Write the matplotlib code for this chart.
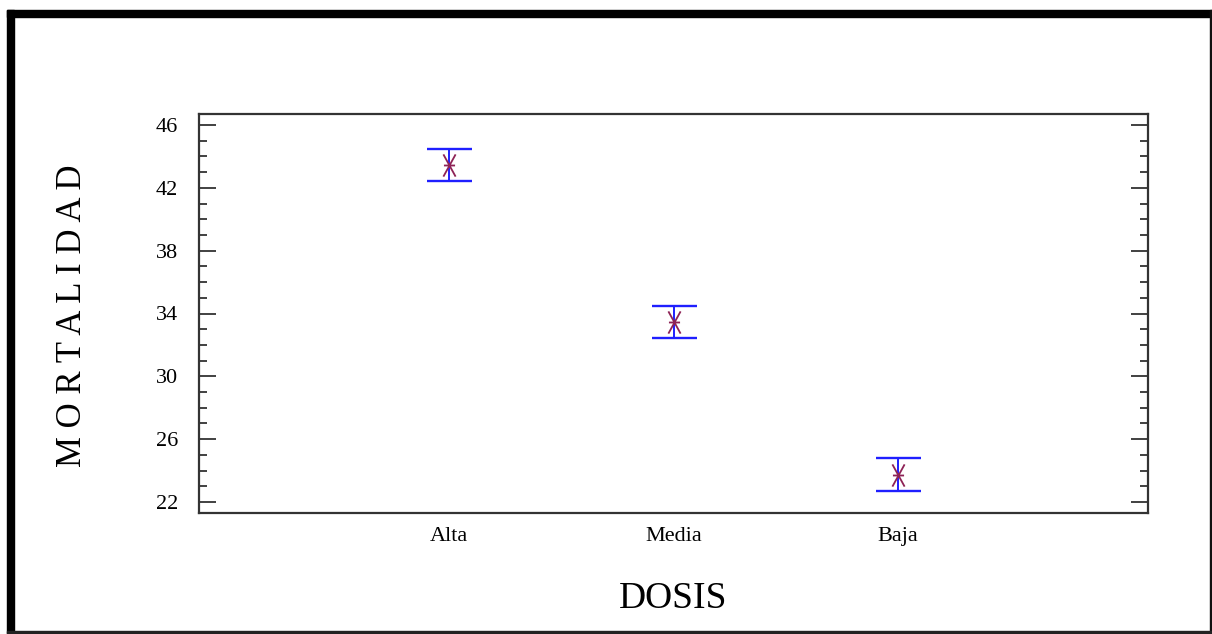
"""
Mortalidad por dosis: medias con intervalos (estilo Statgraphics).
"""
import matplotlib
matplotlib.use("Agg")
import matplotlib.pyplot as plt
from matplotlib.patches import Rectangle
from matplotlib.path import Path
from matplotlib.ticker import MultipleLocator

# ── datos ──
dosis = ["Alta", "Media", "Baja"]
mortalidad_media = [43.45, 33.45, 23.75]
intervalo = [1.02, 1.02, 1.02]
y_ticks = [22, 26, 30, 34, 38, 42, 46]

plt.rcParams["font.family"] = ["Liberation Serif", "DejaVu Serif"]

W, H = 1212, 634
fig = plt.figure(figsize=(W / 100, H / 100), dpi=100)
fig.patch.set_facecolor("white")

ax = fig.add_axes([199 / W, 1 - 513 / H, (1148 - 199) / W, (513 - 114) / H])

x = list(range(1, len(dosis) + 1))

# barras de error azules
ax.errorbar(x, mortalidad_media, yerr=intervalo, fmt="none", ecolor="#1f1fff",
            elinewidth=1.4, capsize=16.2, capthick=1.7, zorder=2)

# asterisco comprimido
star = Path([(-0.55, 1), (0.55, -1), (0.55, 1), (-0.55, -1), (-0.5, 0), (0.5, 0)],
            [Path.MOVETO, Path.LINETO, Path.MOVETO, Path.LINETO, Path.MOVETO, Path.LINETO])
ax.plot(x, mortalidad_media, linestyle="none", marker=star, markersize=16,
        markeredgecolor="#8e2356", markerfacecolor="none", markeredgewidth=1.3, zorder=3)

ax.set_xlim(-0.114, 4.114)
ax.set_ylim(21.3, 46.7)
ax.set_xticks(x)
ax.set_xticklabels(dosis)
ax.set_yticks(y_ticks)
ax.yaxis.set_minor_locator(MultipleLocator(1))

ax.tick_params(axis="x", length=0, pad=10, labelsize=16)
ax.tick_params(axis="y", which="major", direction="in", length=12, width=1.3,
               color="#333333", left=True, right=True, pad=15, labelsize=16)
ax.tick_params(axis="y", which="minor", direction="in", length=6, width=1.3,
               color="#333333", left=True, right=True)

for s in ax.spines.values():
    s.set_color("#333333")
    s.set_linewidth(1.6)

ax.set_xlabel("DOSIS", fontsize=27, va="center")
ax.xaxis.set_label_coords(0.5, -0.2155)
ax.set_ylabel("M O R T A L I D A D", fontsize=25, va="center")
ax.yaxis.set_label_coords(-0.1328, 0.494)

# marco exterior: grueso arriba/izquierda, fino abajo/derecha
fig.patches.append(Rectangle((7 / W, 1 - 17 / H), (W - 7) / W, 7 / H,
                             transform=fig.transFigure, color="black", zorder=5))
fig.patches.append(Rectangle((7 / W, 0), 7 / W, 1 - 10 / H,
                             transform=fig.transFigure, color="black", zorder=5))
fig.patches.append(Rectangle((1209.5 / W, 0), 2 / W, 1 - 10 / H,
                             transform=fig.transFigure, color="#111111", zorder=5))
fig.patches.append(Rectangle((7 / W, 1 / H), (W - 8) / W, 2 / H,
                             transform=fig.transFigure, color="#222222", zorder=5))

fig.savefig("out.png", dpi=100)
